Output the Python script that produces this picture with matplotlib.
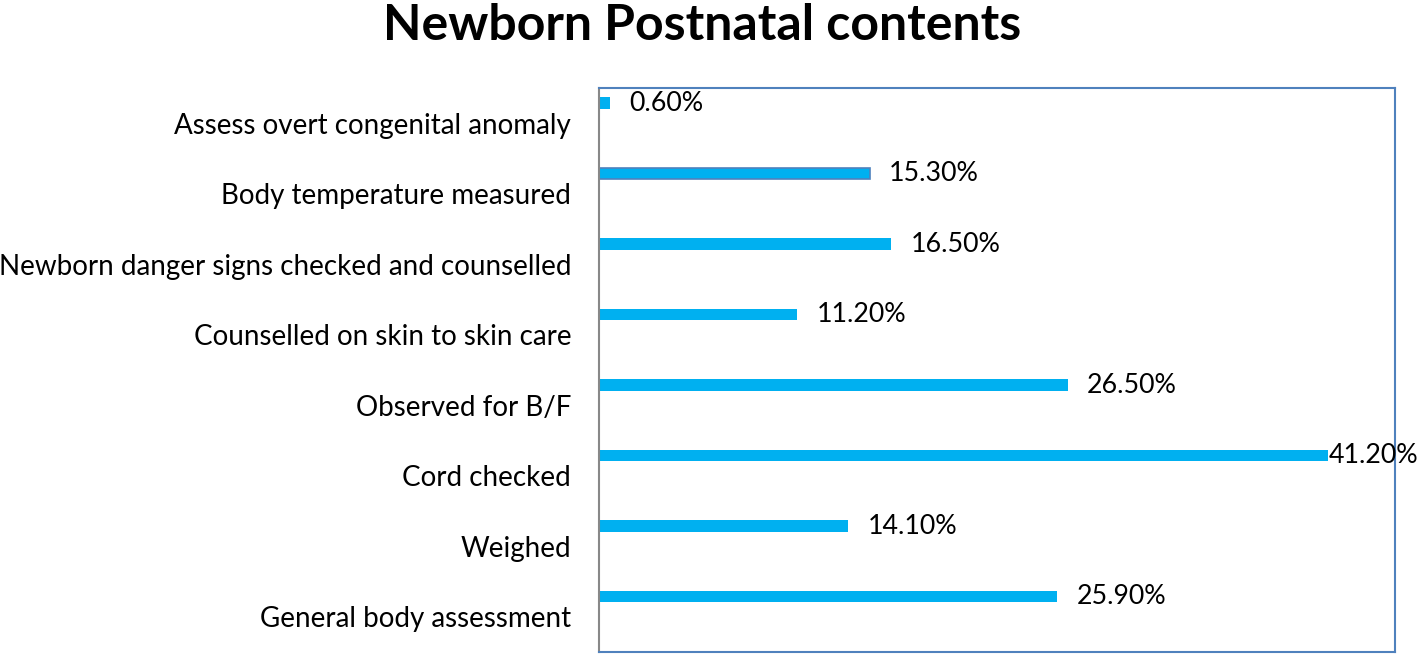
import matplotlib

matplotlib.use("Agg")
import matplotlib.pyplot as plt

plt.rcParams["font.family"] = ["Lato", "DejaVu Sans"]

categories = [
    "Assess overt congenital anomaly",
    "Body temperature measured",
    "Newborn danger signs checked and counselled",
    "Counselled on skin to skin care",
    "Observed for B/F",
    "Cord checked",
    "Weighed",
    "General body assessment",
]
values = [0.6, 15.3, 16.5, 11.2, 26.5, 41.2, 14.1, 25.9]
value_labels = ["0.60%", "15.30%", "16.50%", "11.20%", "26.50%", "41.20%", "14.10%", "25.90%"]

BAR_COLOR = "#00B0F0"
FRAME_COLOR = "#4F81BD"

fig = plt.figure(figsize=(14.18, 6.55), dpi=100)
ax = fig.add_axes([0.4224, 0.0046, 0.5614, 0.861])

positions = list(range(len(categories)))
bar_pos = [p - 0.287 for p in positions]
edges = [FRAME_COLOR if c == "Body temperature measured" else "none" for c in categories]
ax.barh(bar_pos, values, height=0.16, color=BAR_COLOR, edgecolor=edges, linewidth=1.2)

for y, v, lab in zip(bar_pos, values, value_labels):
    offset = 1 if v == max(values) else 14
    ax.annotate(lab, (v, y), xytext=(offset, 0), textcoords="offset points",
                va="center", ha="left", fontsize=19.3, annotation_clip=False)

ax.set_xlim(0, 45)
ax.set_ylim(len(categories) - 0.5, -0.5)
ax.set_yticks(positions)
ax.set_yticklabels(categories, fontsize=20)
ax.tick_params(axis="y", length=0, pad=20)
ax.set_xticks([])

for side in ["top", "right", "bottom"]:
    ax.spines[side].set_color(FRAME_COLOR)
    ax.spines[side].set_linewidth(1.5)
ax.spines["left"].set_color("#888888")
ax.spines["left"].set_linewidth(1.5)

fig.text(0.495, 0.995, "Newborn Postnatal contents", ha="center", va="top",
         fontsize=36, fontweight="bold")

fig.savefig("out.png", dpi=100)
